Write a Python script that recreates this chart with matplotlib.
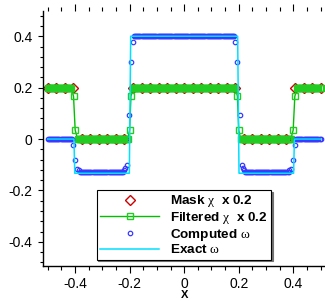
import numpy as np
import matplotlib
matplotlib.use("Agg")
import matplotlib.pyplot as plt
from matplotlib.ticker import MultipleLocator

plt.rcParams['font.family'] = ['Liberation Sans', 'DejaVu Sans']
plt.rcParams['axes.unicode_minus'] = False
plt.rcParams['mathtext.fontset'] = 'custom'
plt.rcParams['mathtext.rm'] = 'Liberation Serif'
plt.rcParams['mathtext.it'] = 'Liberation Serif'

# segments of the domain and the level of each series on them
edges = [-0.5, -0.4, -0.2, 0.2, 0.4, 0.5]
mask_levels = [0.2, 0.0, 0.2, 0.0, 0.2]          # mask chi x 0.2
computed_levels = [0.0, -0.128, 0.399, -0.128, 0.0]

# filtered chi x 0.2: points inside the jumps
filt_tx = [-0.4055, -0.3995, -0.200, -0.195, 0.195, 0.200, 0.3995, 0.4055]
filt_ty = [0.166, 0.035, 0.035, 0.167, 0.167, 0.035, 0.035, 0.166]

# computed omega: points around the jumps
comp_tx = [-0.406, -0.400, -0.393, -0.386,
           -0.220, -0.216, -0.211, -0.203, -0.195, -0.187,
           0.187, 0.195, 0.203, 0.211, 0.216, 0.220,
           0.386, 0.393, 0.400, 0.406]
comp_ty = [-0.025, -0.080, -0.117, -0.122,
           -0.121, -0.114, -0.101, 0.095, 0.298, 0.379,
           0.379, 0.298, 0.095, -0.101, -0.114, -0.121,
           -0.122, -0.117, -0.080, -0.025]

# exact omega polyline
exact_x = [-0.5, -0.404, -0.401, -0.201, -0.196, 0.196, 0.201, 0.401, 0.404, 0.5]
exact_y = [0.0, 0.0, -0.133, -0.133, 0.4, 0.4, -0.133, -0.133, 0.0, 0.0]

# computational grid
x_grid = np.linspace(-0.5, 0.5, 257)


def on_segments(x, levels):
    idx = np.clip(np.searchsorted(edges, x, side='right') - 1, 0, len(levels) - 1)
    return np.asarray(levels)[idx]


def with_jumps(x, levels, tx, ty, pad):
    """Flat levels on grid x, with the grid points near each jump swapped for tx, ty."""
    tx = np.asarray(tx)
    keep = np.ones(len(x), dtype=bool)
    for e in edges[1:-1]:
        near = tx[np.abs(tx - e) < 0.05]
        keep &= ~((x > near.min() - pad) & (x < near.max() + pad))
    xs = np.concatenate([x[keep], tx])
    ys = np.concatenate([on_segments(x[keep], levels), ty])
    order = np.argsort(xs)
    return xs[order], ys[order]


mask_x = x_grid[::8]
mask_y = on_segments(mask_x, mask_levels)
filt_x, filt_y = with_jumps(x_grid, mask_levels, filt_tx, filt_ty, 0.005)
comp_x, comp_y = with_jumps(x_grid, computed_levels, comp_tx, comp_ty, 0.002)

fig = plt.figure(figsize=(3.25, 3.01), dpi=100)
ax = fig.add_axes([0.1314, 0.1153, 0.8706, 0.848])

ax.plot(mask_x, mask_y, linestyle='none', marker='D', markersize=5.2,
        markerfacecolor='none', markeredgecolor='#cc0000', markeredgewidth=1.0,
        label=r'Mask $\chi$  x 0.2')
ax.plot(filt_x, filt_y, color='#00c000', linewidth=1.0, marker='s', markersize=4.8,
        markerfacecolor='none', markeredgecolor='#22cc22', markeredgewidth=1.0,
        label=r'Filtered $\chi$  x 0.2')
ax.plot(comp_x, comp_y, linestyle='none', marker='o', markersize=3.2,
        markerfacecolor='none', markeredgecolor='#3a3aff', markeredgewidth=0.9,
        label=r'Computed $\omega$')
ax.plot(exact_x, exact_y, color='#00e0ff', linewidth=1.1, label=r'Exact $\omega$')

ax.set_xlim(-0.5185, 0.5185)
ax.set_ylim(-0.495, 0.498)
ax.xaxis.set_minor_locator(MultipleLocator(0.05))
ax.yaxis.set_minor_locator(MultipleLocator(0.04))
ax.set_xticks([-0.4, -0.2, 0, 0.2, 0.4])
ax.set_xticklabels(['-0.4', '-0.2', '0', '0.2', '0.4'])
ax.set_yticks([-0.4, -0.2, 0, 0.2, 0.4])
ax.set_yticklabels(['-0.4', '-0.2', '0', '0.2', '0.4'])

ax.spines['top'].set_visible(False)
ax.spines['right'].set_visible(False)
for s in ('left', 'bottom'):
    ax.spines[s].set_linewidth(1.0)

ax.tick_params(axis='x', which='both', direction='out', top=True, bottom=True,
               labelsize=10, width=0.8, pad=2.6)
ax.tick_params(axis='x', which='major', length=4.8)
ax.tick_params(axis='x', which='minor', length=2.9)
ax.tick_params(axis='y', which='both', direction='out', right=False,
               labelsize=10, width=0.8, pad=3.6)
ax.tick_params(axis='y', which='major', length=3.6)
ax.tick_params(axis='y', which='minor', length=2.2)

ax.set_xlabel('X', fontsize=8, fontweight='bold', labelpad=-0.6)

leg = ax.legend(loc='upper left', bbox_to_anchor=(96.7 / 325, 1 - 190 / 301),
                bbox_transform=fig.transFigure, borderaxespad=0,
                prop={'size': 9.7, 'weight': 'bold'}, frameon=True, fancybox=False,
                framealpha=1, edgecolor='black', handlelength=4.4, handletextpad=0.8,
                borderpad=0.25, labelspacing=0.05,
                shadow={'ox': 1.2, 'oy': -1.2, 'color': '0.45', 'alpha': 1})
leg.get_frame().set_linewidth(0.8)

fig.savefig('out.png', dpi=100)
